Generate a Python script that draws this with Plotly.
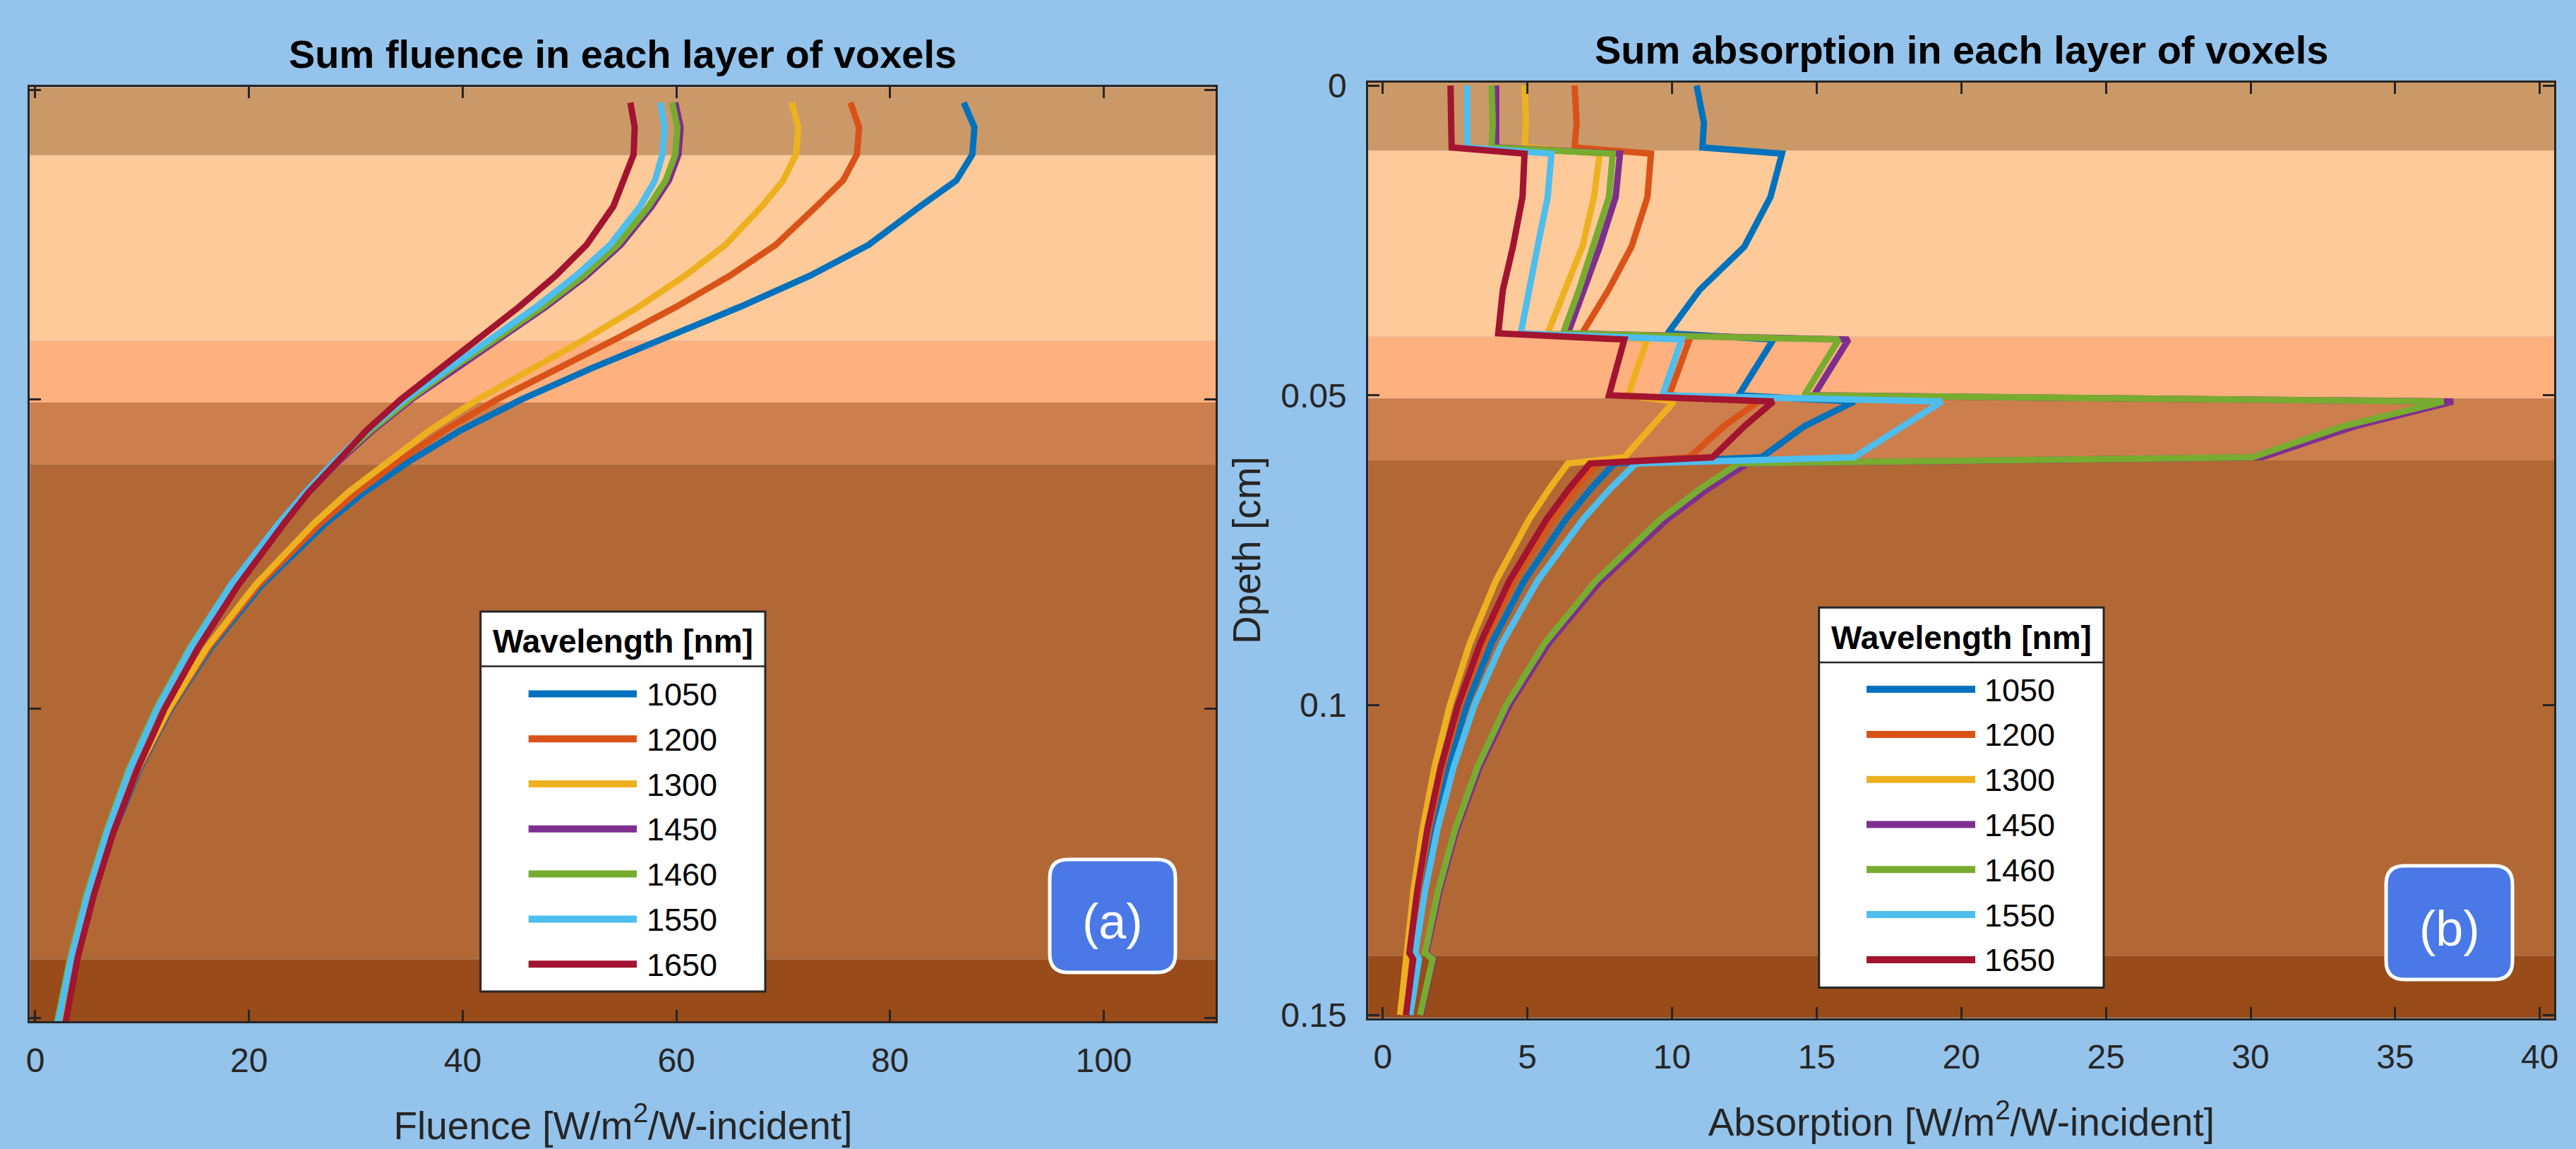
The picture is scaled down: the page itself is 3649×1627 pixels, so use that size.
import plotly.graph_objects as go

# ---------------- data ----------------
WAVELENGTHS = ["1050", "1200", "1300", "1450", "1460", "1550", "1650"]
COLORS = ["#0072BD", "#D95319", "#EDB120", "#7E2F8E", "#77AC30", "#4DBEEE", "#A2142F"]

# depth samples [cm] for the fluence curves
DEPTH_FLUENCE = [0.002, 0.006, 0.0104, 0.0146, 0.0188, 0.025, 0.03, 0.035, 0.04, 0.045,
                 0.05, 0.055, 0.06, 0.065, 0.07, 0.08, 0.09, 0.10, 0.11, 0.12, 0.13, 0.14, 0.151]
FLUENCE_1050 = [86.9, 87.9, 87.7, 86.2, 82.8, 78.0, 72.5, 66.0, 59.0, 52.0, 45.5, 39.8, 35.0,
                30.8, 27.2, 21.2, 16.5, 12.7, 9.7, 7.3, 5.4, 3.8, 2.5]
FLUENCE_1200 = [76.3, 77.1, 76.9, 75.6, 73.1, 69.3, 65.0, 60.0, 54.6, 48.8, 43.2, 38.3, 34.0,
                30.1, 26.7, 20.9, 16.3, 12.6, 9.6, 7.2, 5.3, 3.7, 2.4]
FLUENCE_1300 = [70.8, 71.4, 71.2, 70.0, 68.0, 64.6, 60.8, 56.5, 51.7, 46.5, 41.4, 36.9, 33.0,
                29.3, 26.1, 20.6, 16.1, 12.5, 9.5, 7.1, 5.2, 3.6, 2.3]
FLUENCE_1450 = [59.9, 60.4, 60.2, 59.3, 57.7, 54.8, 51.6, 47.8, 43.6, 39.3, 35.2, 31.6, 28.4,
                25.6, 23.0, 18.4, 14.6, 11.4, 8.8, 6.7, 4.9, 3.4, 2.1]
FLUENCE_1460 = [59.6, 60.1, 59.9, 59.0, 57.4, 54.5, 51.3, 47.5, 43.3, 39.0, 35.0, 31.4, 28.2,
                25.4, 22.9, 18.3, 14.5, 11.3, 8.7, 6.6, 4.8, 3.3, 2.0]
FLUENCE_1550 = [58.5, 58.9, 58.7, 58.0, 56.6, 53.8, 50.6, 46.9, 42.8, 38.6, 34.6, 31.1, 28.0,
                25.3, 22.8, 18.3, 14.6, 11.4, 8.8, 6.7, 4.9, 3.4, 2.1]
FLUENCE_1650 = [55.7, 56.1, 56.0, 55.1, 54.1, 51.6, 48.7, 45.3, 41.6, 37.8, 34.2, 31.0, 28.2,
                25.6, 23.3, 19.0, 15.3, 12.1, 9.5, 7.3, 5.5, 4.0, 2.8]

# depth samples [cm] for the absorption curves
DEPTH_ABS = [0.0, 0.006, 0.010, 0.011, 0.018, 0.026, 0.033, 0.040, 0.041, 0.050, 0.051, 0.055,
             0.060, 0.061, 0.065, 0.070, 0.080, 0.090, 0.100, 0.110, 0.120, 0.130, 0.140, 0.141, 0.150]
ABS_1050 = [10.85, 11.1, 11.05, 13.8, 13.4, 12.5, 10.95, 9.85, 13.5, 12.3, 16.3, 14.57, 13.1,
            8.0, 7.21, 6.33, 4.88, 3.76, 2.90, 2.24, 1.73, 1.33, 1.03, 1.15, 0.85]
ABS_1200 = [6.63, 6.7, 6.63, 9.27, 9.15, 8.6, 7.8, 6.89, 10.6, 9.9, 12.98, 11.79, 10.6,
            7.4, 6.67, 5.85, 4.51, 3.48, 2.68, 2.07, 1.60, 1.23, 0.95, 1.05, 0.78]
ABS_1300 = [4.9, 4.95, 4.9, 7.5, 7.3, 6.9, 6.3, 5.7, 9.14, 8.48, 10.07, 9.3, 8.35,
            6.4, 5.77, 5.06, 3.90, 3.01, 2.32, 1.79, 1.38, 1.06, 0.82, 0.82, 0.6]
ABS_1450 = [3.92, 3.95, 3.92, 8.2, 8.05, 7.5, 6.95, 6.4, 16.1, 14.9, 37.0, 33.6, 30.4,
            12.6, 11.27, 9.84, 7.53, 5.74, 4.38, 3.35, 2.56, 1.96, 1.50, 1.75, 1.32]
ABS_1460 = [3.76, 3.8, 3.76, 7.95, 7.82, 7.29, 6.78, 6.23, 15.76, 14.57, 36.67, 33.2, 30.06,
            12.3, 11.0, 9.6, 7.35, 5.6, 4.27, 3.27, 2.5, 1.91, 1.46, 1.72, 1.29]
ABS_1550 = [2.92, 2.95, 2.92, 5.83, 5.7, 5.35, 5.05, 4.77, 10.33, 9.67, 19.33, 18.0, 16.29,
            8.75, 7.88, 6.92, 5.34, 4.12, 3.17, 2.45, 1.89, 1.46, 1.12, 1.25, 0.95]
ABS_1650 = [2.34, 2.36, 2.38, 4.9, 4.83, 4.5, 4.15, 3.99, 8.35, 7.82, 13.5, 12.5, 11.4,
            7.16, 6.45, 5.66, 4.37, 3.37, 2.60, 2.00, 1.54, 1.19, 0.92, 1.05, 0.8]

FLUENCE = [FLUENCE_1050, FLUENCE_1200, FLUENCE_1300, FLUENCE_1450, FLUENCE_1460, FLUENCE_1550, FLUENCE_1650]
ABSORPTION = [ABS_1050, ABS_1200, ABS_1300, ABS_1450, ABS_1460, ABS_1550, ABS_1650]

# tissue layers (depth edges in cm) and their colours
LAYER_EDGES = [-0.0005, 0.0105, 0.0405, 0.0505, 0.0605, 0.1405, 0.1505]
LAYER_COLORS = ["#CB9967", "#FFCA99", "#FFB07F", "#CC7E4D", "#B26835", "#994B19"]

X_TICKS_FLUENCE = [0, 20, 40, 60, 80, 100]
X_TICKS_ABS = [0, 5, 10, 15, 20, 25, 30, 35, 40]
Y_TICKS = [0, 0.05, 0.1, 0.15]
Y_TICK_LABELS = ["0", "0.05", "0.1", "0.15"]

TITLE_A = "Sum fluence in each layer of voxels"
TITLE_B = "Sum absorption in each layer of voxels"
XLABEL_A = "Fluence [W/m<sup>2</sup>/W-incident]"
XLABEL_B = "Absorption [W/m<sup>2</sup>/W-incident]"
YLABEL = "Dpeth [cm]"
LEGEND_TITLE = "Wavelength [nm]"

# ---------------- layout helpers ----------------
W, H = 3649, 1627
FONT = "Liberation Sans, Arial, Helvetica, sans-serif"
AXC = "#262626"
LW = 9


def px(x):
    return x / W


def py(y):
    return 1 - y / H


fig = go.Figure()

for name, col, vals in zip(WAVELENGTHS, COLORS, FLUENCE):
    fig.add_trace(go.Scatter(x=vals, y=DEPTH_FLUENCE, mode="lines", name=name,
                             line=dict(color=col, width=LW), xaxis="x", yaxis="y",
                             showlegend=False))
for name, col, vals in zip(WAVELENGTHS, COLORS, ABSORPTION):
    fig.add_trace(go.Scatter(x=vals, y=DEPTH_ABS, mode="lines", name=name,
                             line=dict(color=col, width=LW), xaxis="x2", yaxis="y2",
                             showlegend=False))

shapes = []
annotations = []

# background layers
for xr, yr in (("x domain", "y"), ("x2 domain", "y2")):
    for i, c in enumerate(LAYER_COLORS):
        shapes.append(dict(type="rect", xref=xr, yref=yr, x0=0, x1=1,
                           y0=LAYER_EDGES[i], y1=LAYER_EDGES[i + 1],
                           fillcolor=c, line=dict(width=0), layer="below"))

# plot areas (pixels)
A_L, A_R, A_T, A_B = 42.4, 1722.4, 123.3, 1446.0
B_L, B_R, B_T, B_B = 1938.3, 3618.3, 116.7, 1441.5

axis_common = dict(showline=True, linecolor=AXC, linewidth=3, mirror="ticks",
                   ticks="inside", ticklen=16, tickwidth=2.5, tickcolor=AXC,
                   showgrid=False, zeroline=False, automargin=False,
                   tickfont=dict(family=FONT, size=48, color=AXC))

fig.update_layout(
    width=W, height=H,
    margin=dict(l=0, r=0, t=0, b=0, autoexpand=False),
    paper_bgcolor="#94C3EB", plot_bgcolor="rgba(0,0,0,0)",
    showlegend=False,
    xaxis=dict(domain=[px(A_L), px(A_R)], range=[-0.5, 110.5], anchor="y",
               tickvals=X_TICKS_FLUENCE, ticklabelstandoff=11,
               title=dict(text=XLABEL_A, standoff=48,
                          font=dict(family=FONT, size=55, color=AXC)),
               **axis_common),
    yaxis=dict(domain=[py(A_B), py(A_T)], range=[0.1505, -0.0005], anchor="x",
               tickvals=Y_TICKS, showticklabels=False, **axis_common),
    xaxis2=dict(domain=[px(B_L), px(B_R)], range=[-0.5, 40.5], anchor="y2",
                tickvals=X_TICKS_ABS, ticklabelstandoff=11,
                title=dict(text=XLABEL_B, standoff=48,
                           font=dict(family=FONT, size=55, color=AXC)),
                **axis_common),
    yaxis2=dict(domain=[py(B_B), py(B_T)], range=[0.1505, -0.0005], anchor="x2",
                tickvals=Y_TICKS, ticktext=Y_TICK_LABELS, ticklabelstandoff=18,
                title=dict(text=YLABEL, standoff=12,
                           font=dict(family=FONT, size=55, color=AXC)),
                **axis_common),
)

# titles
annotations.append(dict(text=TITLE_A, xref="paper", yref="paper", x=px((A_L + A_R) / 2), y=py(77),
                        xanchor="center", yanchor="middle", showarrow=False,
                        font=dict(family=FONT, size=56, color="black", weight="bold")))
annotations.append(dict(text=TITLE_B, xref="paper", yref="paper", x=px((B_L + B_R) / 2), y=py(71),
                        xanchor="center", yanchor="middle", showarrow=False,
                        font=dict(family=FONT, size=56, color="black", weight="bold")))


# legends (drawn as a boxed key, one row per wavelength)
def add_key(box, sep_y, title_y, row0, step, lx0, lx1, tx):
    x0, y0, x1, y1 = box
    shapes.append(dict(type="rect", xref="paper", yref="paper", x0=px(x0), x1=px(x1),
                       y0=py(y1), y1=py(y0), fillcolor="white",
                       line=dict(color=AXC, width=3)))
    shapes.append(dict(type="line", xref="paper", yref="paper", x0=px(x0), x1=px(x1),
                       y0=py(sep_y), y1=py(sep_y), line=dict(color=AXC, width=2.5)))
    annotations.append(dict(text=LEGEND_TITLE, xref="paper", yref="paper",
                            x=px((x0 + x1) / 2), y=py(title_y), xanchor="center", yanchor="middle",
                            showarrow=False,
                            font=dict(family=FONT, size=46, color="black", weight="bold")))
    for i, (name, col) in enumerate(zip(WAVELENGTHS, COLORS)):
        yy = row0 + i * step
        shapes.append(dict(type="line", xref="paper", yref="paper", x0=px(lx0), x1=px(lx1),
                           y0=py(yy), y1=py(yy), line=dict(color=col, width=10)))
        annotations.append(dict(text=name, xref="paper", yref="paper", x=px(tx), y=py(yy + 1),
                                xanchor="left", yanchor="middle", showarrow=False,
                                font=dict(family=FONT, size=45, color="black")))


add_key((680.7, 866, 1084, 1404), 943.6, 908.4, 982.4, 63.8, 748.7, 902, 914)
add_key((2576.7, 860.3, 2980, 1398.6), 938, 902.9, 976.1, 63.8, 2644, 2798, 2809)


# panel labels (a), (b): rounded blue boxes
def rounded(x0, y0, x1, y1, r):
    pts = [("M", [(x0 + r, y0)]), ("L", [(x1 - r, y0)]), ("Q", [(x1, y0), (x1, y0 + r)]),
           ("L", [(x1, y1 - r)]), ("Q", [(x1, y1), (x1 - r, y1)]), ("L", [(x0 + r, y1)]),
           ("Q", [(x0, y1), (x0, y1 - r)]), ("L", [(x0, y0 + r)]), ("Q", [(x0, y0), (x0 + r, y0)])]
    s = ""
    for cmd, ps in pts:
        s += cmd + " ".join(f"{px(a):.5f},{py(b):.5f}" for a, b in ps) + " "
    return s + "Z"


for (bx0, by0, bx1, by1), lab in (((1487, 1217, 1665, 1377), "(a)"), ((3380, 1226, 3559, 1387), "(b)")):
    shapes.append(dict(type="path", xref="paper", yref="paper", path=rounded(bx0, by0, bx1, by1, 26),
                       fillcolor="#4A78E6", line=dict(color="white", width=5)))
    annotations.append(dict(text=lab, xref="paper", yref="paper", x=px((bx0 + bx1) / 2),
                            y=py((by0 + by1) / 2 + 8), xanchor="center", yanchor="middle",
                            showarrow=False, font=dict(family=FONT, size=70, color="white")))

fig.update_layout(shapes=shapes, annotations=annotations)

fig.write_html("out.html", config={"displayModeBar": False},
               post_script="document.body.style.margin='0';document.body.style.overflow='hidden';")
